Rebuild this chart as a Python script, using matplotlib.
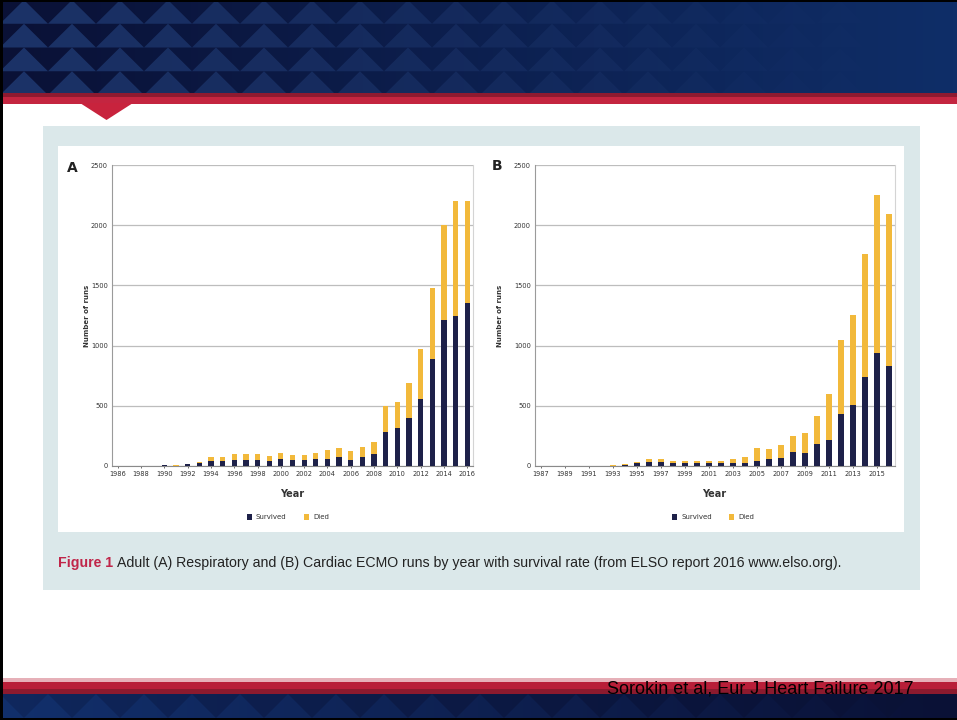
import numpy as np
import matplotlib
matplotlib.use("Agg")
import matplotlib.pyplot as plt
from matplotlib.patches import Rectangle, Polygon
from matplotlib import font_manager

# ---- data: ECMO runs per year (ELSO report 2016) ----
years_resp = list(range(1986, 2017))
resp_total = [0, 0, 0, 2, 8, 6, 20, 30, 72, 72, 100, 100, 97, 85, 105, 92,
              92, 108, 135, 150, 125, 155, 200, 497, 530, 690, 975, 1475,
              2005, 2200, 2205]
resp_survived = [0, 0, 0, 1, 5, 4, 14, 22, 42, 45, 50, 50, 50, 45, 62, 50,
                 48, 62, 60, 75, 50, 75, 100, 285, 315, 400, 560, 885,
                 1210, 1245, 1355]

years_card = list(range(1987, 2017))
card_total = [0, 0, 0, 0, 2, 3, 6, 18, 35, 55, 60, 42, 38, 42, 39, 45,
              55, 75, 153, 140, 173, 253, 270, 412, 596, 1045, 1251,
              1760, 2252, 2093]
card_survived = [0, 0, 0, 0, 1, 2, 3, 10, 25, 30, 33, 25, 24, 25, 22, 22,
                 27, 27, 45, 58, 70, 120, 108, 186, 215, 433, 506, 742,
                 937, 828]

resp_ticks = list(range(1986, 2017, 2))
card_ticks = list(range(1987, 2016, 2))
y_ticks = [0, 500, 1000, 1500, 2000, 2500]

caption_head = "Figure 1"
caption_body = ("Adult (A) Respiratory and (B) Cardiac ECMO runs by year with "
                "survival rate (from ELSO report 2016 www.elso.org).")
citation = "Sorokin et al, Eur J Heart Failure 2017"

NAVY_BAR = "#1e2149"
GOLD_BAR = "#f2b93b"

W, H = 957, 720
fig = plt.figure(figsize=(W / 100, H / 100), dpi=100)


def has_font(name):
    try:
        font_manager.findfont(name, fallback_to_default=False)
        return True
    except Exception:
        return False


narrow = "Liberation Sans Narrow" if has_font("Liberation Sans Narrow") else "Liberation Sans"

# ---- slide background in pixel coordinates ----
bg = fig.add_axes([0, 0, 1, 1], zorder=-5)
bg.set_xlim(0, W)
bg.set_ylim(H, 0)
bg.axis("off")

# header band: gradient navy with a fading triangle pattern
grad = np.linspace(0, 1, 256)
c_left = np.array(matplotlib.colors.to_rgb("#0a1136"))
c_right = np.array(matplotlib.colors.to_rgb("#0f2e68"))
img = c_left[None, :] * (1 - grad[:, None]) + c_right[None, :] * grad[:, None]
bg.imshow(img[None, :, :], extent=[0, W, 95, 0], aspect="auto", zorder=0)

tri_w, tri_h = 48, 23.75
for r in range(4):
    y_top = r * tri_h
    y_bot = y_top + tri_h
    for k in range(-1, 21):
        xc = k * tri_w + 24
        frac = min(max(xc / W, 0), 1)
        alpha = max(0.85 * (1 - frac * 1.05), 0.05)
        bg.add_patch(Polygon([(xc - tri_w / 2, y_bot), (xc + tri_w / 2, y_bot), (xc, y_top)],
                             closed=True, facecolor="#1f3a72", edgecolor="none",
                             alpha=alpha, zorder=1))

# red stripe and notch under the header
bg.add_patch(Rectangle((0, 93), W, 4, facecolor="#8e1a30", edgecolor="none", zorder=2))
bg.add_patch(Rectangle((0, 97), W, 7, facecolor="#c42540", edgecolor="none", zorder=2))
bg.add_patch(Polygon([(80, 103), (133, 103), (106.5, 120)], closed=True,
                     facecolor="#c8233d", edgecolor="none", zorder=2))

# figure box
bg.add_patch(Rectangle((43, 126), 877, 464, facecolor="#dbe8ea", edgecolor="none", zorder=1))
bg.add_patch(Rectangle((58, 146), 846, 386, facecolor="white", edgecolor="none", zorder=2))

# footer band
bg.add_patch(Rectangle((0, 678), W, 4, facecolor="#e6b0b8", edgecolor="none", zorder=1))
bg.add_patch(Rectangle((0, 682), W, 7, facecolor="#b81e38", edgecolor="none", zorder=1))
bg.add_patch(Rectangle((0, 689), W, 5, facecolor="#8c1a2e", edgecolor="none", zorder=1))
img2 = c_left[None, :] * grad[:, None] + np.array(matplotlib.colors.to_rgb("#12306c"))[None, :] * (1 - grad[:, None])
bg.imshow(img2[None, :, :], extent=[0, W, 718, 694], aspect="auto", zorder=1)
for k in range(0, 21):
    xc = k * tri_w + 24
    frac = xc / W
    bg.add_patch(Polygon([(xc - tri_w / 2, 694), (xc + tri_w / 2, 694), (xc, 718)],
                         closed=True, facecolor="#0a1236", edgecolor="none",
                         alpha=0.25 + 0.5 * frac, zorder=2))

# thin black slide frame
bg.add_patch(Rectangle((0, 0), 3, H, facecolor="black", edgecolor="none", zorder=5))
bg.add_patch(Rectangle((0, 0), W, 2, facecolor="black", edgecolor="none", zorder=5))
bg.add_patch(Rectangle((0, 718), W, 2, facecolor="black", edgecolor="none", zorder=5))

bg.text(607, 689, citation, fontsize=13, family=narrow, color="black",
        va="center", ha="left", zorder=6)


def px_axes(left, top, right, bottom):
    return fig.add_axes([left / W, 1 - bottom / H, (right - left) / W, (bottom - top) / H])


def stacked_panel(ax, years, total, survived, ticks, letter, lx, ly, ylab_x, year_x, legend_x):
    died = [t - s for t, s in zip(total, survived)]
    ax.bar(years, survived, width=0.45, color=NAVY_BAR, zorder=3)
    ax.bar(years, died, width=0.45, bottom=survived, color=GOLD_BAR, zorder=3)
    ax.set_xlim(years[0] - 0.5, years[-1] + 0.5)
    ax.set_ylim(0, 2500)
    ax.set_yticks(y_ticks)
    ax.set_xticks(ticks)
    ax.set_xticklabels([str(t) for t in ticks])
    ax.yaxis.grid(True, color="#bdbdbd", lw=0.9, zorder=0)
    ax.tick_params(axis="both", labelsize=4.8, colors="#333333", length=0, pad=3)
    ax.tick_params(axis="x", length=1.5, width=0.5, pad=2)
    ax.spines["top"].set_visible(False)
    ax.spines["left"].set_color("#9a9a9a")
    ax.spines["right"].set_color("#d4d4d4")
    ax.spines["bottom"].set_color("#8a8a8a")
    for s in ax.spines.values():
        s.set_linewidth(0.8)
    ax.set_facecolor("white")

    bg.text(lx, ly, letter, fontsize=10, fontweight="bold", color="#222222",
            ha="center", va="center", zorder=6)
    bg.text(ylab_x, 316, "Number of runs", fontsize=5, fontweight="bold", color="#333333",
            rotation=90, ha="center", va="center", zorder=6)
    bg.text(year_x, 494, "Year", fontsize=7, fontweight="bold", color="#333333",
            ha="center", va="center", zorder=6)
    bg.add_patch(Rectangle((legend_x, 514), 5, 6, facecolor=NAVY_BAR, edgecolor="none", zorder=6))
    bg.text(legend_x + 9, 517, "Survived", fontsize=5, color="#333333",
            ha="left", va="center", zorder=6)
    bg.add_patch(Rectangle((legend_x + 57, 514), 5, 6, facecolor=GOLD_BAR, edgecolor="none", zorder=6))
    bg.text(legend_x + 66, 517, "Died", fontsize=5, color="#333333",
            ha="left", va="center", zorder=6)


axA = px_axes(112, 165, 473, 466)
stacked_panel(axA, years_resp, resp_total, resp_survived, resp_ticks, "A",
              72, 168, 87, 292, 247)
axB = px_axes(535, 165, 895, 466)
stacked_panel(axB, years_card, card_total, card_survived, card_ticks, "B",
              497, 166, 500, 714, 672)

# caption
t1 = bg.text(58, 563, caption_head, fontsize=10.2, fontweight="bold", family=narrow,
             color="#c0264a", ha="left", va="center", zorder=6)
fig.canvas.draw()
bb = t1.get_window_extent(renderer=fig.canvas.get_renderer())
x_after = bb.x1 + 4
bg.text(x_after, 563, caption_body, fontsize=10.2, family=narrow,
        color="#222222", ha="left", va="center", zorder=6)

fig.savefig("out.png", dpi=100)
